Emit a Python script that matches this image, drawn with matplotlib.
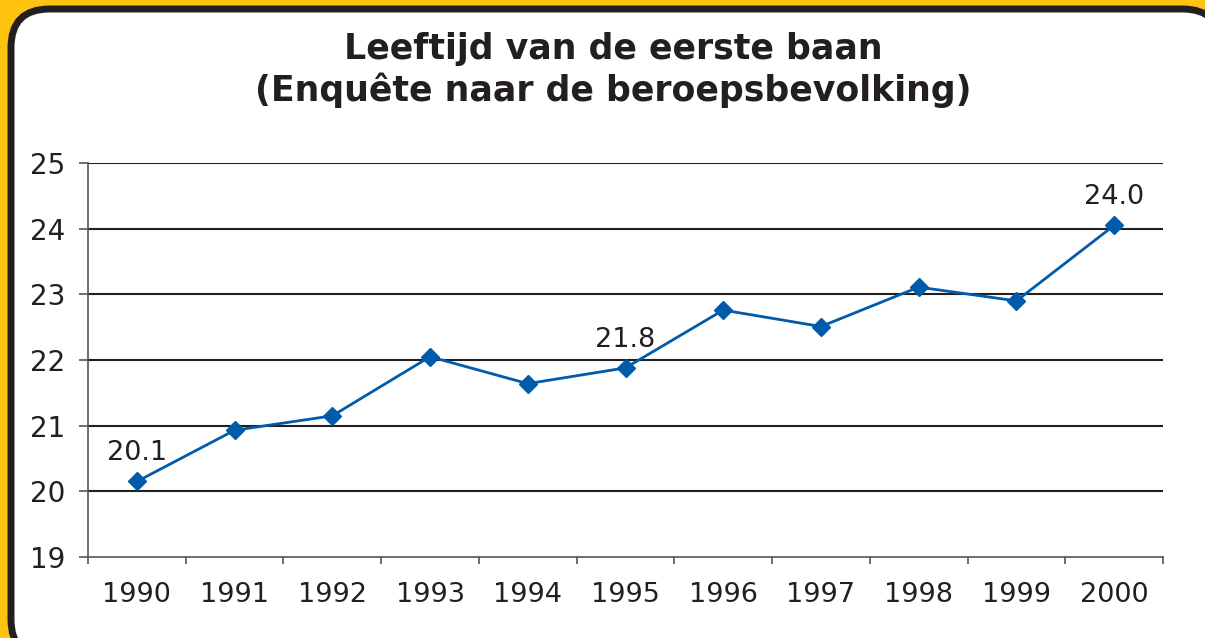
import matplotlib
matplotlib.use("Agg")
import matplotlib.pyplot as plt
from matplotlib.patches import FancyBboxPatch
import numpy as np

years = ["1990", "1991", "1992", "1993", "1994", "1995", "1996", "1997", "1998", "1999", "2000"]
ages = [20.15, 20.93, 21.15, 22.05, 21.64, 21.88, 22.76, 22.51, 23.11, 22.9, 24.05]
label_idx = [0, 5, 10]
label_text = ["20.1", "21.8", "24.0"]
yticks = [19, 20, 21, 22, 23, 24, 25]
title = "Leeftijd van de eerste baan\n(Enquête naar de beroepsbevolking)"

W, H = 1205, 638
fig = plt.figure(figsize=(W / 100, H / 100), dpi=100)
fig.patch.set_facecolor("#FFC20E")

# rounded white panel
panel = FancyBboxPatch((11 / W, -20 / H), (W + 16 - 11) / W, (H + 20 - 9) / H,
                       boxstyle="round,pad=0,rounding_size=0.032",
                       transform=fig.transFigure, facecolor="white",
                       edgecolor="#231F20", linewidth=5, mutation_aspect=W / H,
                       zorder=-10)
fig.patches.append(panel)

ax = fig.add_axes([88 / W, (H - 557) / H, (1163 - 88) / W, (557 - 163) / H])
ax.set_zorder(5)
ax.set_facecolor("none")
x = np.arange(len(years))
ax.plot(x, ages, color="#005BAA", linewidth=2, marker="D", markersize=9,
        markeredgecolor="#005BAA", markerfacecolor="#005BAA", zorder=3)

for i, t in zip(label_idx, label_text):
    ax.annotate(t, (x[i], ages[i]), xytext=(0, 11), textcoords="offset points",
                ha="center", va="bottom", fontsize=19.5, color="#231F20")

ax.set_xlim(-0.5, len(years) - 0.5)
ax.set_ylim(19, 25)
ax.set_yticks(yticks)
ax.set_yticklabels([str(v) for v in yticks], fontsize=20, color="#231F20")
ax.set_xticks(x)
ax.set_xticklabels(years, fontsize=19.5, color="#231F20")
ax.set_xticks(np.arange(-0.5, len(years), 1.0), minor=True)
ax.tick_params(axis="x", which="major", length=0, pad=18)
ax.tick_params(axis="x", which="minor", length=5, color="#555555", width=1.2)
ax.tick_params(axis="y", length=6.5, color="#555555", width=1.2, pad=10)

for v in yticks[1:]:
    ax.axhline(v, color="#231F20", linewidth=1.5, zorder=1)

for s in ["top", "right"]:
    ax.spines[s].set_visible(False)
for s in ["left", "bottom"]:
    ax.spines[s].set_color("#555555")
    ax.spines[s].set_linewidth(1.2)

fig.text(613 / W, 1 - 70 / H, title, ha="center", va="center", fontsize=25,
         fontweight="bold", color="#231F20", linespacing=1.2)

fig.savefig("out.png", dpi=100, facecolor=fig.get_facecolor())
